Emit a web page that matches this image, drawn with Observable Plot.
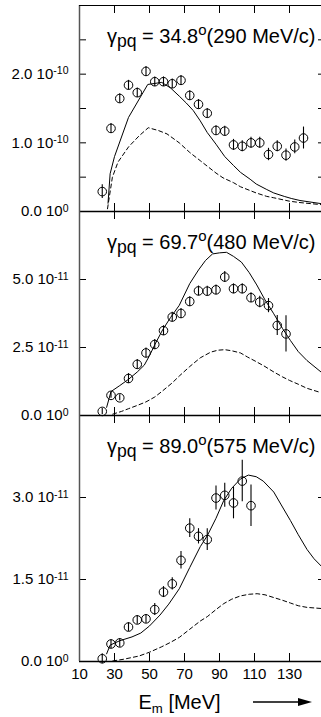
<!DOCTYPE html>
<html><head><meta charset="utf-8">
<script src="https://cdn.jsdelivr.net/npm/d3@7"></script>
<script src="https://cdn.jsdelivr.net/npm/@observablehq/plot@0.6"></script>
<style>
body{margin:0;background:#fff;}
#wrap{width:321px;height:717px;overflow:hidden;position:relative;background:#fff;}
</style></head><body><div id="wrap"></div>
<script>
// ---------- shared x axis ----------
const xTickVals = [30, 50, 70, 90, 110, 130];
const xLabelVals = [10, 30, 50, 70, 90, 110, 130];
const xTitle = "E_{m} [MeV]";

// ---------- panel 1: 34.8 deg (values in 1e-10) ----------
const p1Title = "γ_{pq} = 34.8^{o}(290 MeV/c)";
const p1E = [23,28,33,38,43,48,53,58,63,68,73,78,83,88,93,98,103,108,113,118,123,128,133,138];
const p1V = [0.29,1.21,1.645,1.84,1.73,2.04,1.89,1.89,1.86,1.91,1.69,1.56,1.43,1.18,1.17,0.97,0.95,1.00,1.00,0.83,0.95,0.82,0.94,1.07];
const p1Err = [0.10,0.07,0.07,0.07,0.07,0.07,0.07,0.07,0.07,0.07,0.07,0.07,0.07,0.07,0.07,0.08,0.08,0.08,0.08,0.09,0.08,0.09,0.10,0.16];
const p1SolidE = [26.3,27.5,30,38,49,57,62,67,71,75,79,83,88,93,98,102,107.5,111,117,121,127,131,136,148];
const p1SolidV = [0.12,0.55,0.8,1.37,1.85,1.88,1.8,1.68,1.58,1.47,1.32,1.15,0.98,0.8,0.67,0.57,0.47,0.40,0.32,0.27,0.22,0.19,0.16,0.115];
const p1DashE = [26,28.8,32,38,44,49.3,55,60,67,73,79,83,88,92,98,102,108,111,117,121,130,136,148];
const p1DashV = [0.04,0.5,0.72,0.94,1.1,1.22,1.18,1.13,1.0,0.86,0.74,0.66,0.56,0.49,0.42,0.36,0.3,0.27,0.22,0.2,0.15,0.13,0.10];
const p1YTicks = [0.5,1,1.5,2,2.5];
const p1YLabelVals = [0,1,2];
const p1YLabels = ["0.0 10^{0}","1.0 10^{-10}","2.0 10^{-10}"];

// ---------- panel 2: 69.7 deg (values in 1e-11) ----------
const p2Title = "γ_{pq} = 69.7^{o}(480 MeV/c)";
const p2E = [23,28,33,38,43,48,53,58,63,68,73,78,83,88,93,98,103,108,113,118,123,128];
const p2V = [0.15,0.74,0.65,1.36,1.88,2.30,2.61,3.12,3.62,3.75,4.19,4.58,4.57,4.62,5.09,4.66,4.66,4.33,4.17,4.04,3.31,3.0];
const p2Err = [0.11,0.11,0.11,0.18,0.18,0.18,0.18,0.18,0.18,0.18,0.18,0.18,0.18,0.18,0.2,0.18,0.18,0.18,0.21,0.26,0.37,0.67];
const p2SolidE = [25.5,28,33,38,43,47,50,53,57.5,62,67,73,78,82,86,90,94,98,102.5,107,111.3,116,121,126,130.5,135,140,148];
const p2SolidV = [0.3,0.88,1.1,1.33,1.6,1.85,2.2,2.6,3.15,3.6,4.05,4.85,5.35,5.7,5.94,5.98,6.0,5.85,5.64,5.25,4.8,4.25,3.74,3.2,2.76,2.35,2.02,1.6];
const p2DashE = [29,34,38,43,48,53,57,63,67,73,79,85,89,93,97,102,106,111,116,121,126,130,135,140,148];
const p2DashV = [0.05,0.15,0.25,0.37,0.5,0.68,0.88,1.2,1.45,1.8,2.12,2.33,2.4,2.42,2.38,2.3,2.15,1.98,1.8,1.6,1.42,1.29,1.15,1.0,0.84];
const p2YTicks = [2.5,5];
const p2YLabelVals = [0,2.5,5];
const p2YLabels = ["0.0 10^{0}","2.5 10^{-11}","5.0 10^{-11}"];

// ---------- panel 3: 89.0 deg (values in 1e-11) ----------
const p3Title = "γ_{pq} = 89.0^{o}(575 MeV/c)";
const p3E = [23,28,33,38,43,48,53,58,63,68,73,78,83,88,93,98,103,108];
const p3V = [0.05,0.32,0.34,0.63,0.76,0.78,0.95,1.27,1.42,1.85,2.44,2.29,2.23,2.99,3.04,2.90,3.30,2.85];
const p3Err = [0.09,0.08,0.08,0.08,0.08,0.08,0.11,0.1,0.11,0.16,0.17,0.14,0.2,0.22,0.22,0.29,0.38,0.38];
const p3SolidE = [25.5,27.5,33,40,45,50,56,61,67,73,79,83,88,92.5,97,102,106.5,111,115,121,125,130.5,135,140,144,148];
const p3SolidV = [0.14,0.3,0.38,0.45,0.52,0.65,0.85,1.05,1.33,1.72,2.1,2.3,2.62,2.95,3.17,3.34,3.41,3.38,3.3,3.1,2.88,2.58,2.32,2.05,1.88,1.75];
const p3DashE = [29,35,44,50,57,62,67,73,79,83,88,92.5,97,102,107,111.5,116,121,126,130.5,135,140,148];
const p3DashV = [0.01,0.04,0.1,0.17,0.27,0.35,0.44,0.59,0.74,0.82,0.95,1.06,1.14,1.2,1.23,1.24,1.22,1.17,1.12,1.07,1.02,0.99,0.97];
const p3YTicks = [1.5,3];
const p3YLabelVals = [0,1.5,3];
const p3YLabels = ["0.0 10^{0}","1.5 10^{-11}","3.0 10^{-11}"];

const FONT = "'Liberation Sans', Arial, Helvetica, sans-serif";
const W = 324, ML = 79, PAD = 10;
const wrap = document.getElementById("wrap");

function makePanel(c) {
  const innerH = c.frameH, innerW = W - ML;
  const mb = c.last ? 56 : PAD;
  const pts = c.E.map((e, i) => ({e, v: c.V[i], lo: c.V[i] - c.err[i], hi: c.V[i] + c.err[i]}));
  const solid = c.sE.map((e, i) => ({e, v: c.sV[i]}));
  const dashed = c.dE.map((e, i) => ({e, v: c.dV[i]}));
  const marks = [
    Plot.ruleX(xTickVals, {x: d => d, insetTop: innerH - 8, stroke: "#000"}),
    Plot.ruleX(xTickVals, {x: d => d, insetBottom: innerH - 8, stroke: "#000"}),
    Plot.ruleY(c.yTicks, {y: d => d, insetRight: innerW - 7, stroke: "#000"}),
    Plot.ruleY(c.yTicks, {y: d => d, insetLeft: innerW - 6, stroke: "#000"}),
    Plot.ruleY([0], {stroke: "#000", strokeWidth: 1.3}),
    Plot.ruleX([10], {stroke: "#555", strokeWidth: 1.5}),
    Plot.line(dashed, {x: "e", y: "v", stroke: "#000", strokeWidth: 1, strokeDasharray: "4,3"}),
    Plot.line(solid, {x: "e", y: "v", stroke: "#000", strokeWidth: 1}),
    Plot.ruleX(pts, {x: "e", y1: "lo", y2: "hi", stroke: "#000", strokeWidth: 1.1}),
    Plot.dot(pts, {x: "e", y: "v", r: 4.3, stroke: "#000", strokeWidth: 1, fill: "none"}),
    Plot.text(c.yLabelVals, {y: d => d, text: (d, i) => c.yLabels[i], frameAnchor: "left", textAnchor: "end", dx: -11, fontSize: 15, fill: "#000"}),
    Plot.text([c.title], {text: d => d, frameAnchor: "top-right", textAnchor: "end", lineAnchor: "bottom", dx: -9, dy: 37, fontSize: 20, fill: "#000"})
  ];
  if (c.top) marks.push(Plot.ruleY([c.yDomain[1]], {stroke: "#000", strokeWidth: 1}));
  if (c.last) {
    marks.push(Plot.text(xLabelVals, {x: d => d, text: d => String(d), frameAnchor: "bottom", lineAnchor: "top", dy: 7, fontSize: 15, fill: "#000"}));
    marks.push(Plot.text([xTitle], {text: d => d, frameAnchor: "bottom", textAnchor: "start", lineAnchor: "bottom", dx: 138 - (ML + W) / 2, dy: 47, fontSize: 20, fill: "#000"}));
  }
  const svg = Plot.plot({
    width: W, height: PAD + innerH + mb,
    marginLeft: ML, marginRight: 0, marginTop: PAD, marginBottom: mb,
    x: {domain: [10, 150], axis: null},
    y: {domain: c.yDomain, axis: null},
    style: {background: "transparent", overflow: "visible", fontFamily: FONT, maxWidth: "none", position: "absolute", left: "0px", top: (c.frameTop - PAD) + "px"},
    marks
  });
  wrap.appendChild(svg);
  rich(svg);
  return svg;
}

function rich(svg) {
  d3.select(svg).selectAll("text").each(function () {
    const s = this.textContent;
    if (!/[_^]\{/.test(s)) return;
    const fs = parseFloat(getComputedStyle(this).fontSize) || 15;
    const isTitle = s.startsWith("γ");
    const isAxis = s.startsWith("E");
    const subSize = isTitle ? 0.88 : 0.66, subShift = isTitle ? 0.24 : 0.2;
    const supSize = isTitle ? 0.75 : 0.7, supShift = isTitle ? -0.36 : -0.32;
    const re = /([_^])\{([^}]*)\}|([^_^]+)/g;
    this.textContent = "";
    let shift = 0, m;
    while ((m = re.exec(s))) {
      const type = m[1] || "";
      const txt = m[1] ? m[2] : m[3];
      const target = type === "_" ? subShift : type === "^" ? supShift : 0;
      const ts = document.createElementNS("http://www.w3.org/2000/svg", "tspan");
      ts.textContent = txt;
      const dy = (target - shift) * fs;
      if (dy) ts.setAttribute("dy", dy.toFixed(2));
      if (type) ts.setAttribute("font-size", (fs * (type === "_" ? subSize : supSize)).toFixed(2));
      if (isAxis && !type) ts.setAttribute("xml:space", "preserve");
      shift = target;
      this.appendChild(ts);
    }
  });
}

makePanel({frameTop: 5, frameH: 206, top: true, title: p1Title, E: p1E, V: p1V, err: p1Err,
  sE: p1SolidE, sV: p1SolidV, dE: p1DashE, dV: p1DashV, yDomain: [0, 3],
  yTicks: p1YTicks, yLabelVals: p1YLabelVals, yLabels: p1YLabels});
makePanel({frameTop: 211, frameH: 204, title: p2Title, E: p2E, V: p2V, err: p2Err,
  sE: p2SolidE, sV: p2SolidV, dE: p2DashE, dV: p2DashV, yDomain: [0, 7.5],
  yTicks: p2YTicks, yLabelVals: p2YLabelVals, yLabels: p2YLabels});
const s3 = makePanel({frameTop: 415, frameH: 246, last: true, title: p3Title, E: p3E, V: p3V, err: p3Err,
  sE: p3SolidE, sV: p3SolidV, dE: p3DashE, dV: p3DashV, yDomain: [0, 4.5],
  yTicks: p3YTicks, yLabelVals: p3YLabelVals, yLabels: p3YLabels});

// decorative arrow next to the axis title
const ay = 702 - (415 - PAD);
const g = d3.select(s3).append("g");
g.append("line").attr("x1", 253).attr("x2", 300).attr("y1", ay).attr("y2", ay).attr("stroke", "#000").attr("stroke-width", 1.3);
g.append("path").attr("d", `M298,${ay - 4}L312,${ay}L298,${ay + 4}Z`).attr("fill", "#000");
</script>
</body></html>
